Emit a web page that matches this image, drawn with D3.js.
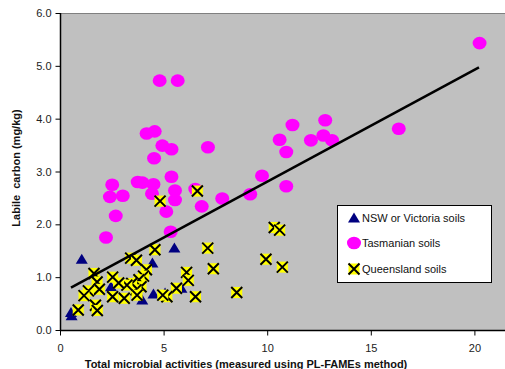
<!DOCTYPE html>
<html>
<head>
<script src="https://d3js.org/d3.v7.min.js"></script>
<style>
  body { margin: 0; background: white; }
  text { font-family: "Liberation Sans", Arial, sans-serif; }
</style>
</head>
<body>
<script>

// NSW or Victoria soils [activity, labile C]
var nswData = [
  [1.05, 1.34], [2.46, 0.82], [0.53, 0.33], [0.56, 0.27], [4.46, 1.27],
  [4.51, 0.68], [3.97, 0.57], [5.52, 1.55], [5.86, 0.79], [5.07, 0.70]
];

// Tasmanian soils
var tasData = [
  [20.25, 5.43], [4.81, 4.72], [5.68, 4.72], [4.18, 3.72], [4.57, 3.76],
  [4.94, 3.49], [5.38, 3.42], [4.54, 3.25], [7.14, 3.46], [11.22, 3.88],
  [12.80, 3.97], [10.60, 3.60], [12.11, 3.59], [12.71, 3.68], [13.13, 3.59],
  [10.92, 3.37], [9.75, 2.92], [9.18, 2.57], [10.92, 2.72], [7.83, 2.49],
  [6.84, 2.34], [6.53, 2.67], [5.38, 2.90], [5.55, 2.64], [5.55, 2.46],
  [5.13, 2.24], [2.52, 2.75], [3.75, 2.80], [3.98, 2.79], [4.51, 2.76],
  [2.41, 2.52], [3.03, 2.54], [4.44, 2.58], [2.69, 2.16], [2.22, 1.75],
  [5.34, 1.86], [16.35, 3.81]
];

// Queensland soils
var qldData = [
  [4.83, 2.44], [6.63, 2.63], [10.34, 1.94], [10.60, 1.89], [7.13, 1.55],
  [9.94, 1.34], [10.73, 1.19], [7.40, 1.16], [6.11, 1.09], [6.19, 0.94],
  [8.53, 0.71], [6.54, 0.63], [5.62, 0.79], [5.16, 0.63], [4.96, 0.66],
  [4.58, 1.52], [3.41, 1.36], [3.69, 1.32], [4.17, 1.14], [4.03, 1.02],
  [3.81, 0.95], [3.91, 0.82], [3.67, 0.76], [3.72, 0.66], [3.46, 0.88],
  [3.23, 0.85], [3.10, 0.60], [2.54, 1.00], [2.83, 0.89], [2.54, 0.63],
  [1.64, 1.07], [1.79, 0.91], [1.90, 0.77], [1.37, 0.74], [1.16, 0.65],
  [0.88, 0.38], [1.71, 0.47], [1.80, 0.37]
];

// linear trend line
var trendFrom = 0.53, trendTo = 20.22;
var trendSlope = 0.2118, trendIntercept = 0.688;

var xTicks = [0, 5, 10, 15, 20];
var yTicks = [0, 1, 2, 3, 4, 5, 6];
var legendNames = ["NSW or Victoria soils", "Tasmanian soils", "Queensland soils"];

var width = 505, height = 369;
var pLeft = 60, pRight = 505, pTop = 13, pBottom = 330;

var svg = d3.select("body").append("svg")
    .attr("width", width)
    .attr("height", height);

var x = d3.scaleLinear().domain([0, (pRight - pLeft) / 20.72]).range([pLeft, pRight]);
var y = d3.scaleLinear().domain([0, 6]).range([pBottom, pTop]);

// plot area
svg.append("rect")
    .attr("x", pLeft).attr("y", pTop)
    .attr("width", pRight - pLeft).attr("height", pBottom - pTop)
    .attr("fill", "#c0c0c0");
svg.append("line")
    .attr("x1", pLeft).attr("x2", pRight)
    .attr("y1", pTop + 0.5).attr("y2", pTop + 0.5)
    .attr("stroke", "#808080").attr("stroke-width", 1);

// axes
var yAxis = d3.axisLeft(y).tickValues(yTicks).tickSize(5).tickPadding(4)
    .tickFormat(d3.format(".1f"));
var gy = svg.append("g").attr("transform", "translate(" + (pLeft + 0.5) + ",0)").call(yAxis);

var xAxis = d3.axisBottom(x).tickValues(xTicks).tickSize(5).tickPadding(9);
var gx = svg.append("g").attr("transform", "translate(0," + (pBottom + 0.5) + ")").call(xAxis);

[gx, gy].forEach(function(g){
  g.select(".domain").attr("stroke", "#000").attr("stroke-width", 1.5);
  g.selectAll(".tick line").attr("stroke", "#000");
  g.selectAll(".tick text")
    .attr("font-size", "11px")
    .attr("font-family", "Liberation Sans, Arial, sans-serif")
    .attr("fill", "#222");
});
gx.select(".domain").attr("d", "M" + pLeft + ",0H" + pRight);
gy.select(".domain").attr("d", "M0," + pTop + "V" + pBottom);

// axis titles
svg.append("text")
    .attr("transform", "translate(20,168) rotate(-90)")
    .attr("text-anchor", "middle")
    .attr("font-size", "11px")
    .attr("font-weight", "bold")
    .attr("fill", "#111")
    .attr("xml:space", "preserve")
    .text("Labile  carbon (mg/kg)");

svg.append("text")
    .attr("x", 246).attr("y", 368)
    .attr("text-anchor", "middle")
    .attr("font-size", "11px")
    .attr("font-weight", "bold")
    .attr("fill", "#111")
    .text("Total microbial activities (measured using PL-FAMEs method)");

// markers
function triangle(g, cx, cy){
  g.append("path")
    .attr("d", "M" + cx + "," + (cy - 5.5) + "L" + (cx + 6) + "," + (cy + 4.5) + "L" + (cx - 6) + "," + (cy + 4.5) + "Z")
    .attr("fill", "#000080");
}
function blob(g, cx, cy){
  g.append("ellipse")
    .attr("cx", cx).attr("cy", cy)
    .attr("rx", 7).attr("ry", 6.3)
    .attr("fill", "#ff00ff");
}
function cross(g, cx, cy){
  g.append("rect")
    .attr("x", cx - 5.5).attr("y", cy - 5.5)
    .attr("width", 11).attr("height", 11)
    .attr("fill", "#ffff00");
  g.append("path")
    .attr("d", "M" + (cx - 5.5) + "," + (cy - 5.5) + "L" + (cx + 5.5) + "," + (cy + 5.5) +
               "M" + (cx + 5.5) + "," + (cy - 5.5) + "L" + (cx - 5.5) + "," + (cy + 5.5))
    .attr("stroke", "#000").attr("stroke-width", 2);
}

var pts = svg.append("g");
tasData.forEach(function(d){ blob(pts, x(d[0]), y(d[1])); });
nswData.forEach(function(d){ triangle(pts, x(d[0]), y(d[1])); });
qldData.forEach(function(d){ cross(pts, x(d[0]), y(d[1])); });

// trend line
svg.append("line")
    .attr("x1", x(trendFrom)).attr("y1", y(trendIntercept + trendSlope * trendFrom))
    .attr("x2", x(trendTo)).attr("y2", y(trendIntercept + trendSlope * trendTo))
    .attr("stroke", "#000").attr("stroke-width", 2.5);

// legend
var lg = svg.append("g");
lg.append("rect")
    .attr("x", 337.5).attr("y", 205.5)
    .attr("width", 154).attr("height", 77)
    .attr("fill", "#fff").attr("stroke", "#000").attr("stroke-width", 1);

var legendY = [218, 243, 269];
triangle(lg, 354, legendY[0]);
blob(lg, 354, legendY[1]);
cross(lg, 354, legendY[2]);

legendNames.forEach(function(n, i){
  lg.append("text")
    .attr("x", 362).attr("y", legendY[i] + 4)
    .attr("font-size", "11px")
    .attr("fill", "#111")
    .text(n);
});
</script>
</body>
</html>
